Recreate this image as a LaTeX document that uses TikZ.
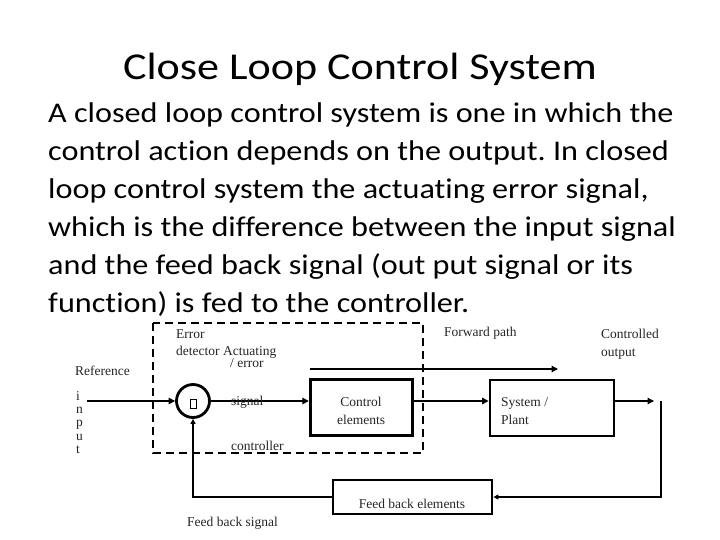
\documentclass[tikz,border=0pt]{standalone}
\usepackage{fontspec}
\setmainfont{Carlito}
\newfontfamily\titlefont[FakeStretch=1.16,Ligatures={NoCommon,NoRare,NoContextual}]{Carlito}
\newfontfamily\bodyfont[FakeStretch=1.13,Ligatures={NoCommon,NoRare,NoContextual}]{Carlito}
\newfontfamily\diafont{Liberation Serif}
\usetikzlibrary{arrows.meta}
\frenchspacing
\begin{document}
\begin{tikzpicture}[x=1pt,y=-1pt,
  bodytext/.style={anchor=base west,inner sep=0pt,font=\bodyfont\fontsize{28.5}{34}\selectfont},
  lbl/.style={anchor=base west,inner sep=0pt,text=black!85,font=\diafont\fontsize{13.5}{13.5}\selectfont},
  blk/.style={draw,line width=2.8pt,inner sep=0pt},
  thin/.style={line width=1.2pt,-{Triangle[length=6.5pt,width=6.5pt]}},
  thick/.style={line width=2.8pt},
  tip/.style={-{Triangle[length=5pt,width=5pt]}}]
\useasboundingbox (0,0) rectangle (720,540);
\fill[white] (0,0) rectangle (720,540);
% title
\node[anchor=base,inner sep=0pt,font=\titlefont\fontsize{38}{42}\selectfont] (title) at (360,80) {Close Loop Control System};
% body
\node[bodytext] (l1) at (48,123) {A closed loop control system is one in which the};
\node[bodytext] (l2) at (48,160.8) {control action depends on the output. In closed};
\node[bodytext] (l3) at (48,198.6) {loop control system the actuating error signal,};
\node[bodytext] (l4) at (48,236.4) {which is the difference between the input signal};
\node[bodytext] (l5) at (48,274.2) {and the feed back signal (out put signal or its};
\node[bodytext] (l6) at (48,312) {function) is fed to the controller.};
% dashed controller box
\draw[line width=2.8pt,dash pattern=on 8pt off 5pt] (153,323) rectangle (423,453);
% blocks
\node[circle,draw,line width=2.8pt,minimum size=33pt,inner sep=0pt] (sum) at (193,401) {};
\node[draw,line width=0.6pt,minimum width=6pt,minimum height=9pt,inner sep=0pt] (tofu) at (193,404) {};
\node[blk,minimum width=102pt,minimum height=56.5pt] (ctrl) at (361.2,407.5) {};
\node[blk,minimum width=124pt,minimum height=56pt] (plant) at (552,408) {};
\node[blk,minimum width=159pt,minimum height=34pt] (fb) at (412.5,497) {};
% coordinates
\coordinate (inp) at (87,401);
\coordinate (fwdA) at (310,369);
\coordinate (fwdB) at (558,369);
\coordinate (outA) at (614,401);
\coordinate (outB) at (654,401);
\coordinate (downA) at (661,401);
\coordinate (downB) at (661,497);
\coordinate (fbL) at (193,497);
% connectors
\draw[thin] (inp) -- (sum.west);
\draw[thin] (sum.east) -- (sum.east -| ctrl.west);
\draw[thin] (ctrl.east |- outA) -- (plant.west |- outA);
\draw[thin] (fwdA) -- (fwdB);
\draw[thin] (outA) -- (outB);
\draw[thick,tip] (downA) -- (downB) -- (fb.east |- downB);
\draw[thick,tip] (fb.west) -- (fbL) -- (sum.south);
% labels
\node[lbl] (ref) at (75,375) {Reference};
\node[anchor=north west,inner sep=0pt,align=left,text=black!85,font=\diafont\fontsize{13.5}{13.3}\selectfont] (input) at (76,391) {i\\n\\p\\u\\t};
\node[lbl] (err) at (176,338) {Error};
\node[lbl] (det) at (176,355) {detector Actuating};
\node[lbl] (slash) at (230,367) {/ error};
\node[lbl] (sig) at (231,405) {signal};
\node[lbl] (con) at (231,450) {controller};
\node[lbl] (fbs) at (187,526) {Feed back signal};
\node[lbl] (fwd) at (444,336) {Forward path};
\node[lbl] (co1) at (601,338) {Controlled};
\node[lbl] (co2) at (601,356) {output};
\node[lbl,anchor=base] (ce1) at (361,406) {Control};
\node[lbl,anchor=base] (ce2) at (361,424) {elements};
\node[lbl] (sp1) at (501,406) {System /};
\node[lbl] (sp2) at (501,424) {Plant};
\node[lbl,anchor=base] (fbe) at (412,508) {Feed back elements};
\end{tikzpicture}
\end{document}
